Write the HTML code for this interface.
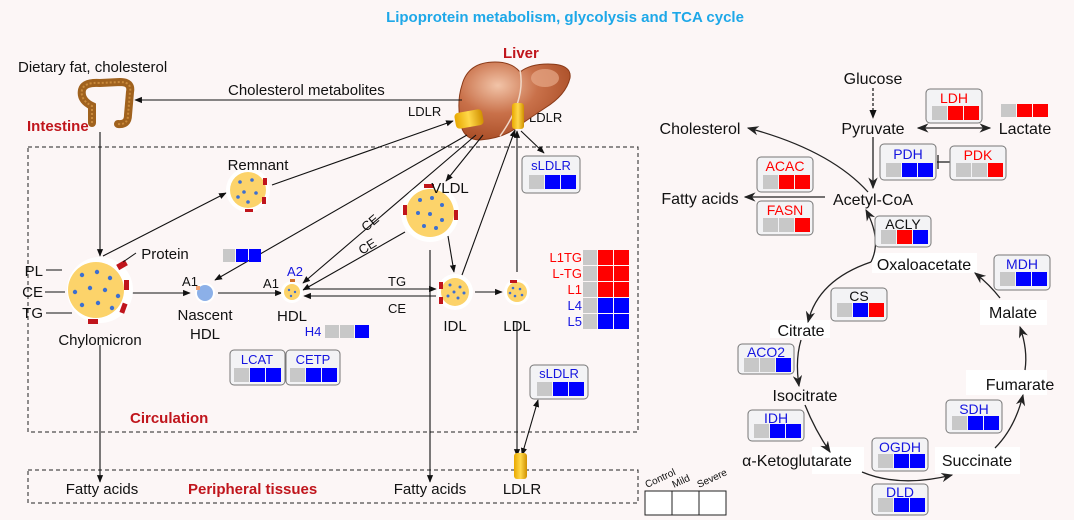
<!DOCTYPE html>
<html><head><meta charset="utf-8"><style>
html,body{margin:0;padding:0;background:#fff}
svg{display:block;font-family:"Liberation Sans",Arial,sans-serif}
</style></head><body>
<svg width="1080" height="520" viewBox="0 0 1080 520" xmlns="http://www.w3.org/2000/svg">
<defs>
<marker id="a" viewBox="0 0 10 10" refX="9" refY="5" markerWidth="7" markerHeight="7" orient="auto-start-reverse"><path d="M0,1 L10,5 L0,9 z" fill="#111"/></marker>
<marker id="b" viewBox="0 0 10 10" refX="9" refY="5" markerWidth="9" markerHeight="9" orient="auto-start-reverse"><path d="M0,1 L10,5 L0,9 L3,5 z" fill="#222"/></marker>
<linearGradient id="cy" x1="0" x2="1"><stop offset="0" stop-color="#e8a800"/><stop offset=".5" stop-color="#ffd84a"/><stop offset="1" stop-color="#d09000"/></linearGradient>
<radialGradient id="lv" cx=".35" cy=".3" r=".8"><stop offset="0" stop-color="#f2c4a8"/><stop offset=".45" stop-color="#c9714a"/><stop offset="1" stop-color="#a3461f"/></radialGradient>
</defs>
<rect width="1080" height="520" fill="#fcf6f6"/>
<rect x="1074" y="0" width="6" height="520" fill="#fff"/>
<text x="565" y="22" text-anchor="middle" font-size="15" font-weight="bold" fill="#1ea8e8">Lipoprotein metabolism, glycolysis and TCA cycle</text>

<rect x="28" y="147" width="610" height="285" fill="none" stroke="#222" stroke-dasharray="4,3"/>
<rect x="28" y="470" width="610" height="33" fill="none" stroke="#222" stroke-dasharray="4,3"/>

<g font-size="15" fill="#111">
<text x="18" y="72">Dietary fat, cholesterol</text>
<text x="228" y="95">Cholesterol metabolites</text>
<text x="408" y="116" font-size="13">LDLR</text>
<text x="529" y="122" font-size="13">LDLR</text>
</g>
<text x="27" y="131" font-size="15" font-weight="bold" fill="#c0151c">Intestine</text>
<text x="503" y="58" font-size="15" font-weight="bold" fill="#c0151c">Liver</text>
<text x="130" y="423" font-size="15" font-weight="bold" fill="#c0151c">Circulation</text>
<text x="188" y="494" font-size="15" font-weight="bold" fill="#c0151c">Peripheral tissues</text>

<!-- intestine -->
<path d="M92,123 L92,106 Q80,100 82,90 Q84,82 100,83 L120,82 Q132,82 130,92 L128,115 Q128,125 118,124" fill="none" stroke="#a0621e" stroke-width="8" stroke-linecap="round"/>
<path d="M92,123 L92,106 Q80,100 82,90 Q84,82 100,83 L120,82 Q132,82 130,92 L128,115 Q128,125 118,124" fill="none" stroke="#c98a3c" stroke-width="2" stroke-dasharray="2,2"/>
<!-- liver -->
<path d="M462,85 Q468,62 495,62 Q512,62 520,72 Q530,64 548,64 Q572,64 570,78 Q566,95 545,108 Q530,118 520,125 Q505,138 480,140 Q462,140 460,120 Q457,100 462,85 Z" fill="url(#lv)" stroke="#8a3a18"/>
<path d="M520,70 Q526,100 500,136" fill="none" stroke="#f0d8c8" stroke-width="1.5"/>
<ellipse cx="545" cy="78" rx="14" ry="9" fill="#e7a888" opacity=".7"/>
<rect x="455" y="111" width="28" height="16" rx="4" fill="url(#cy)" transform="rotate(-10 469 119)"/>
<rect x="512" y="103" width="12" height="26" rx="3" fill="url(#cy)"/>

<g stroke="#111" stroke-width="1.1" fill="none" marker-end="url(#a)">
<line x1="462" y1="100" x2="135" y2="100"/>
<line x1="100" y1="132" x2="100" y2="256"/>
<line x1="103" y1="256" x2="226" y2="193"/>
<line x1="272" y1="185" x2="453" y2="121"/>
<line x1="467" y1="135" x2="215" y2="280"/>
<line x1="476" y1="135" x2="303" y2="283"/>
<line x1="405" y1="232" x2="303" y2="290"/>
<line x1="483" y1="135" x2="446" y2="181"/>
<line x1="448" y1="236" x2="454" y2="272"/>
<line x1="462" y1="275" x2="515" y2="130"/>
<line x1="517" y1="272" x2="517" y2="131"/>
<line x1="521" y1="131" x2="544" y2="153"/>
<line x1="118" y1="293" x2="190" y2="293"/>
<line x1="218" y1="293" x2="282" y2="293"/>
<line x1="304" y1="289" x2="436" y2="289"/>
<line x1="436" y1="296" x2="304" y2="296"/>
<line x1="475" y1="292" x2="502" y2="292"/>
<line x1="430" y1="250" x2="430" y2="482"/>
<line x1="100" y1="345" x2="100" y2="482"/>
<line x1="517" y1="322" x2="517" y2="456"/>
<line x1="522" y1="455" x2="538" y2="400" marker-start="url(#a)"/>
</g>
<rect x="514" y="453" width="13" height="26" rx="3" fill="url(#cy)"/>

<g font-size="13" fill="#111">
<text x="388" y="286">TG</text><text x="388" y="313">CE</text>
<text transform="translate(366,232) rotate(-40)">CE</text>
<text transform="translate(362,255) rotate(-32)">CE</text>
</g>

<g>
<circle cx="100" cy="290" r="33" fill="#fff"/><circle cx="96" cy="290" r="28" fill="#fcd36a"/>
<circle cx="248" cy="190" r="22" fill="#fff"/><circle cx="248" cy="190" r="18" fill="#fcd36a"/>
<circle cx="205" cy="293" r="10" fill="#fff"/><circle cx="205" cy="293" r="8" fill="#8cb0e8"/>
<circle cx="292" cy="292" r="11" fill="#fff"/><circle cx="292" cy="292" r="8" fill="#fcd36a"/>
<circle cx="430" cy="213" r="29" fill="#fff"/><circle cx="430" cy="213" r="24" fill="#fcd36a"/>
<circle cx="455" cy="292" r="18" fill="#fff"/><circle cx="455" cy="292" r="14" fill="#fcd36a"/>
<circle cx="517" cy="292" r="13" fill="#fff"/><circle cx="517" cy="292" r="10" fill="#fcd36a"/>
</g>
<g fill="#3d6fd0">
<circle cx="82" cy="275" r="2.2"/><circle cx="97" cy="272" r="2.2"/><circle cx="110" cy="278" r="2.2"/><circle cx="75" cy="292" r="2.2"/><circle cx="90" cy="288" r="2.2"/><circle cx="105" cy="290" r="2.2"/><circle cx="118" cy="296" r="2.2"/><circle cx="82" cy="305" r="2.2"/><circle cx="98" cy="303" r="2.2"/><circle cx="112" cy="308" r="2.2"/>
<circle cx="240" cy="182" r="1.8"/><circle cx="252" cy="180" r="1.8"/><circle cx="244" cy="192" r="1.8"/><circle cx="256" cy="193" r="1.8"/><circle cx="248" cy="202" r="1.8"/><circle cx="238" cy="197" r="1.8"/>
<circle cx="420" cy="200" r="2"/><circle cx="432" cy="198" r="2"/><circle cx="442" cy="205" r="2"/><circle cx="418" cy="213" r="2"/><circle cx="430" cy="214" r="2"/><circle cx="442" cy="220" r="2"/><circle cx="424" cy="226" r="2"/><circle cx="436" cy="228" r="2"/>
<circle cx="450" cy="285" r="1.5"/><circle cx="460" cy="287" r="1.5"/><circle cx="448" cy="296" r="1.5"/><circle cx="458" cy="298" r="1.5"/><circle cx="464" cy="293" r="1.5"/><circle cx="454" cy="292" r="1.5"/>
<circle cx="513" cy="288" r="1.3"/><circle cx="520" cy="289" r="1.3"/><circle cx="515" cy="296" r="1.3"/><circle cx="522" cy="295" r="1.3"/><circle cx="510" cy="293" r="1.3"/>
<circle cx="289" cy="290" r="1.2"/><circle cx="295" cy="292" r="1.2"/><circle cx="291" cy="296" r="1.2"/>
</g>
<g fill="#c0151c">
<rect x="117" y="262" width="10" height="6" transform="rotate(-30 122 265)"/>
<rect x="124" y="280" width="5" height="10"/><rect x="121" y="303" width="5" height="10" transform="rotate(20 123 308)"/>
<rect x="88" y="319" width="10" height="5"/>
<rect x="263" y="178" width="4" height="7"/><rect x="262" y="197" width="4" height="7"/><rect x="245" y="209" width="8" height="3"/>
<rect x="424" y="184" width="10" height="4"/><rect x="403" y="205" width="4" height="10"/><rect x="454" y="210" width="4" height="10"/>
<rect x="439" y="282" width="4" height="7"/><rect x="439" y="297" width="4" height="7"/>
<rect x="510" y="280" width="7" height="3"/>
<rect x="290" y="279" width="5" height="3" fill="#d0702a"/><rect x="196" y="286" width="4" height="4" fill="#f0a070"/>
</g>
<g stroke="#111" fill="none">
<line x1="46" y1="270" x2="62" y2="270"/><line x1="45" y1="292" x2="65" y2="292"/><line x1="46" y1="313" x2="72" y2="313"/>
<line x1="136" y1="253" x2="123" y2="262"/>
</g>
<g font-size="15" fill="#111" text-anchor="middle">
<text x="165" y="259">Protein</text>
<text x="43" y="276" text-anchor="end">PL</text><text x="43" y="297" text-anchor="end">CE</text><text x="43" y="318" text-anchor="end">TG</text>
<text x="100" y="345">Chylomicron</text>
<text x="258" y="170">Remnant</text>
<text x="450" y="193">VLDL</text>
<text x="205" y="320">Nascent</text><text x="205" y="339">HDL</text>
<text x="292" y="321">HDL</text>
<text x="455" y="331">IDL</text>
<text x="517" y="331">LDL</text>
<text x="190" y="286" font-size="13">A1</text>
<text x="271" y="288" font-size="13">A1</text>
<text x="295" y="276" font-size="13" fill="#1515e0">A2</text>
<text x="102" y="494">Fatty acids</text>
<text x="430" y="494">Fatty acids</text>
<text x="522" y="494">LDLR</text>
</g>

<g font-size="13" text-anchor="middle">
<rect x="522" y="156" width="58" height="37" rx="4" fill="#f3f3f5" stroke="#777"/>
<text x="551" y="170" fill="#1515e0">sLDLR</text>
<rect x="529" y="175" width="15" height="14" fill="#c8c8c8"/><rect x="545" y="175" width="15" height="14" fill="#00f"/><rect x="561" y="175" width="15" height="14" fill="#00f"/>
<rect x="530" y="365" width="58" height="34" rx="4" fill="#f3f3f5" stroke="#777"/>
<text x="559" y="378" fill="#1515e0">sLDLR</text>
<rect x="537" y="382" width="15" height="14" fill="#c8c8c8"/><rect x="553" y="382" width="15" height="14" fill="#00f"/><rect x="569" y="382" width="15" height="14" fill="#00f"/>
<rect x="223" y="249" width="12" height="13" fill="#c8c8c8"/><rect x="236" y="249" width="12" height="13" fill="#00f"/><rect x="249" y="249" width="12" height="13" fill="#00f"/>
<text x="313" y="336" fill="#1515e0">H4</text>
<rect x="325" y="325" width="14" height="13" fill="#c8c8c8"/><rect x="340" y="325" width="14" height="13" fill="#c8c8c8"/><rect x="355" y="325" width="14" height="13" fill="#00f"/>
<rect x="230" y="350" width="55" height="35" rx="4" fill="#f3f3f5" stroke="#777"/>
<text x="257" y="364" fill="#1515e0">LCAT</text>
<rect x="234" y="368" width="15" height="14" fill="#c8c8c8"/><rect x="250" y="368" width="15" height="14" fill="#00f"/><rect x="266" y="368" width="15" height="14" fill="#00f"/>
<rect x="286" y="350" width="54" height="35" rx="4" fill="#f3f3f5" stroke="#777"/>
<text x="313" y="364" fill="#1515e0">CETP</text>
<rect x="290" y="368" width="15" height="14" fill="#c8c8c8"/><rect x="306" y="368" width="15" height="14" fill="#00f"/><rect x="322" y="368" width="15" height="14" fill="#00f"/>
</g>
<g font-size="13" text-anchor="end">
<text x="582" y="262" fill="#f00">L1TG</text><text x="582" y="278" fill="#f00">L-TG</text><text x="582" y="294" fill="#f00">L1</text><text x="582" y="310" fill="#1515e0">L4</text><text x="582" y="326" fill="#1515e0">L5</text>
</g>
<g>
<rect x="583" y="250" width="14" height="15" fill="#c8c8c8"/><rect x="598" y="250" width="15" height="15" fill="#f00"/><rect x="614" y="250" width="15" height="15" fill="#f00"/>
<rect x="583" y="266" width="14" height="15" fill="#c8c8c8"/><rect x="598" y="266" width="15" height="15" fill="#f00"/><rect x="614" y="266" width="15" height="15" fill="#f00"/>
<rect x="583" y="282" width="14" height="15" fill="#c8c8c8"/><rect x="598" y="282" width="15" height="15" fill="#f00"/><rect x="614" y="282" width="15" height="15" fill="#f00"/>
<rect x="583" y="298" width="14" height="15" fill="#c8c8c8"/><rect x="598" y="298" width="15" height="15" fill="#00f"/><rect x="614" y="298" width="15" height="15" fill="#00f"/>
<rect x="583" y="314" width="14" height="15" fill="#c8c8c8"/><rect x="598" y="314" width="15" height="15" fill="#00f"/><rect x="614" y="314" width="15" height="15" fill="#00f"/>
</g>

<g fill="#fff">
<rect x="770" y="320" width="60" height="18"/><rect x="872" y="253" width="105" height="20"/>
<rect x="980" y="300" width="67" height="25"/><rect x="966" y="370" width="81" height="25"/>
<rect x="935" y="447" width="85" height="27"/><rect x="812" y="447" width="52" height="27"/>
</g>
<g stroke="#222" stroke-width="1.3" fill="none">
<line x1="873" y1="88" x2="873" y2="118" stroke-dasharray="3,2" marker-end="url(#a)"/>
<line x1="918" y1="128" x2="990" y2="128" marker-start="url(#b)" marker-end="url(#b)"/>
<line x1="873" y1="137" x2="873" y2="188" marker-end="url(#b)"/>
<line x1="937" y1="162" x2="950" y2="162"/><line x1="938" y1="155" x2="938" y2="169"/>
<path d="M868,192 Q830,150 748,128" marker-end="url(#b)"/>
<line x1="825" y1="197" x2="745" y2="197" marker-end="url(#b)"/>
<path d="M871,262 Q882,240 866,210" marker-end="url(#b)"/>
<path d="M871,262 Q818,280 808,322" marker-end="url(#b)"/>
<path d="M801,340 Q795,360 799,386" marker-end="url(#b)"/>
<path d="M805,405 Q815,430 830,452" marker-end="url(#b)"/>
<path d="M862,472 Q900,488 952,475" marker-end="url(#b)"/>
<path d="M995,448 Q1015,428 1023,395" marker-end="url(#b)"/>
<path d="M1025,370 Q1028,350 1020,327" marker-end="url(#b)"/>
<path d="M1000,298 Q990,285 975,273" marker-end="url(#b)"/>
</g>
<g font-size="16" fill="#111" text-anchor="middle">
<text x="873" y="84">Glucose</text>
<text x="873" y="134">Pyruvate</text>
<text x="1025" y="134">Lactate</text>
<text x="700" y="134">Cholesterol</text>
<text x="700" y="204">Fatty acids</text>
<text x="873" y="205">Acetyl-CoA</text>
<text x="924" y="270">Oxaloacetate</text>
<text x="1013" y="318">Malate</text>
<text x="1020" y="390">Fumarate</text>
<text x="977" y="466">Succinate</text>
<text x="797" y="466">α-Ketoglutarate</text>
<text x="805" y="401">Isocitrate</text>
<text x="801" y="336">Citrate</text>
</g>
<g font-size="14" text-anchor="middle">
<g transform="translate(926,89)"><rect width="56" height="34" rx="4" fill="#f3f3f5" stroke="#777"/><text x="28" y="14" fill="#f00">LDH</text><rect x="6" y="17" width="15" height="14" fill="#c8c8c8"/><rect x="22" y="17" width="15" height="14" fill="#f00"/><rect x="38" y="17" width="15" height="14" fill="#f00"/></g>
<g transform="translate(1001,104)"><rect width="15" height="13" fill="#c8c8c8"/><rect x="16" width="15" height="13" fill="#f00"/><rect x="32" width="15" height="13" fill="#f00"/></g>
<g transform="translate(880,144)"><rect width="56" height="36" rx="4" fill="#f3f3f5" stroke="#777"/><text x="28" y="15" fill="#1515e0">PDH</text><rect x="6" y="19" width="15" height="14" fill="#c8c8c8"/><rect x="22" y="19" width="15" height="14" fill="#00f"/><rect x="38" y="19" width="15" height="14" fill="#00f"/></g>
<g transform="translate(950,146)"><rect width="56" height="34" rx="4" fill="#f3f3f5" stroke="#777"/><text x="28" y="14" fill="#f00">PDK</text><rect x="6" y="17" width="15" height="14" fill="#c8c8c8"/><rect x="22" y="17" width="15" height="14" fill="#c8c8c8"/><rect x="38" y="17" width="15" height="14" fill="#f00"/></g>
<g transform="translate(757,157)"><rect width="56" height="35" rx="4" fill="#f3f3f5" stroke="#777"/><text x="28" y="14" fill="#f00">ACAC</text><rect x="6" y="18" width="15" height="14" fill="#c8c8c8"/><rect x="22" y="18" width="15" height="14" fill="#f00"/><rect x="38" y="18" width="15" height="14" fill="#f00"/></g>
<g transform="translate(757,201)"><rect width="56" height="34" rx="4" fill="#f3f3f5" stroke="#777"/><text x="28" y="14" fill="#f00">FASN</text><rect x="6" y="17" width="15" height="14" fill="#c8c8c8"/><rect x="22" y="17" width="15" height="14" fill="#c8c8c8"/><rect x="38" y="17" width="15" height="14" fill="#f00"/></g>
<g transform="translate(875,216)"><rect width="56" height="31" rx="4" fill="#f3f3f5" stroke="#777"/><text x="28" y="13" fill="#111">ACLY</text><rect x="6" y="14" width="15" height="14" fill="#c8c8c8"/><rect x="22" y="14" width="15" height="14" fill="#f00"/><rect x="38" y="14" width="15" height="14" fill="#00f"/></g>
<g transform="translate(831,288)"><rect width="56" height="33" rx="4" fill="#f3f3f5" stroke="#777"/><text x="28" y="13" fill="#111">CS</text><rect x="6" y="15" width="15" height="14" fill="#c8c8c8"/><rect x="22" y="15" width="15" height="14" fill="#00f"/><rect x="38" y="15" width="15" height="14" fill="#f00"/></g>
<g transform="translate(994,255)"><rect width="56" height="35" rx="4" fill="#f3f3f5" stroke="#777"/><text x="28" y="14" fill="#1515e0">MDH</text><rect x="6" y="17" width="15" height="14" fill="#c8c8c8"/><rect x="22" y="17" width="15" height="14" fill="#00f"/><rect x="38" y="17" width="15" height="14" fill="#00f"/></g>
<g transform="translate(738,344)"><rect width="56" height="30" rx="4" fill="#f3f3f5" stroke="#777"/><text x="28" y="13" fill="#1515e0">ACO2</text><rect x="6" y="14" width="15" height="14" fill="#c8c8c8"/><rect x="22" y="14" width="15" height="14" fill="#c8c8c8"/><rect x="38" y="14" width="15" height="14" fill="#00f"/></g>
<g transform="translate(748,410)"><rect width="56" height="31" rx="4" fill="#f3f3f5" stroke="#777"/><text x="28" y="13" fill="#1515e0">IDH</text><rect x="6" y="14" width="15" height="14" fill="#c8c8c8"/><rect x="22" y="14" width="15" height="14" fill="#00f"/><rect x="38" y="14" width="15" height="14" fill="#00f"/></g>
<g transform="translate(946,400)"><rect width="56" height="33" rx="4" fill="#f3f3f5" stroke="#777"/><text x="28" y="14" fill="#1515e0">SDH</text><rect x="6" y="16" width="15" height="14" fill="#c8c8c8"/><rect x="22" y="16" width="15" height="14" fill="#00f"/><rect x="38" y="16" width="15" height="14" fill="#00f"/></g>
<g transform="translate(872,438)"><rect width="56" height="33" rx="4" fill="#f3f3f5" stroke="#777"/><text x="28" y="14" fill="#1515e0">OGDH</text><rect x="6" y="16" width="15" height="14" fill="#c8c8c8"/><rect x="22" y="16" width="15" height="14" fill="#00f"/><rect x="38" y="16" width="15" height="14" fill="#00f"/></g>
<g transform="translate(872,484)"><rect width="56" height="31" rx="4" fill="#f3f3f5" stroke="#777"/><text x="28" y="13" fill="#1515e0">DLD</text><rect x="6" y="14" width="15" height="14" fill="#c8c8c8"/><rect x="22" y="14" width="15" height="14" fill="#00f"/><rect x="38" y="14" width="15" height="14" fill="#00f"/></g>
</g>
<g stroke="#222" fill="#fff"><rect x="645" y="491" width="27" height="24"/><rect x="672" y="491" width="27" height="24"/><rect x="699" y="491" width="27" height="24"/></g>
<g font-size="10" fill="#111">
<text transform="translate(647,488) rotate(-25)">Control</text>
<text transform="translate(674,488) rotate(-25)">Mild</text>
<text transform="translate(699,488) rotate(-25)">Severe</text>
</g>
</svg>
</body></html>
